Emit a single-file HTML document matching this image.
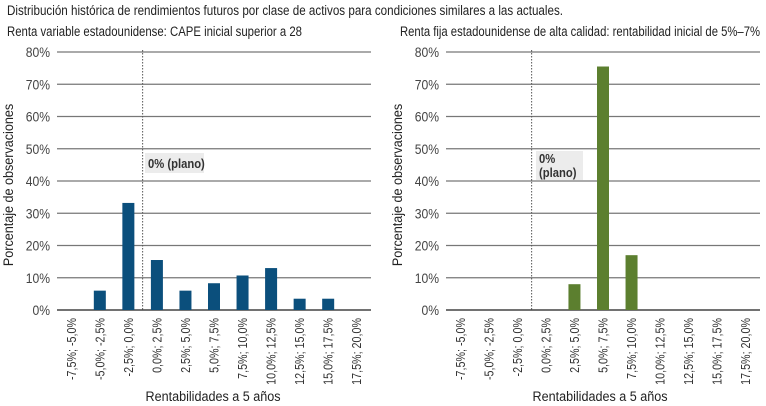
<!DOCTYPE html>
<html><head><meta charset="utf-8"><style>
html,body{margin:0;padding:0;background:#fff;}
svg{display:block;font-family:"Liberation Sans Narrow","Liberation Sans",sans-serif;fill:#222;}
</style></head><body>
<svg width="766" height="406" viewBox="0 0 766 406" xmlns="http://www.w3.org/2000/svg">
<text x="7" y="15" font-size="13.5" textLength="556" lengthAdjust="spacingAndGlyphs">Distribución histórica de rendimientos futuros por clase de activos para condiciones similares a las actuales.</text>
<text x="7" y="36" font-size="13.5" textLength="295" lengthAdjust="spacingAndGlyphs">Renta variable estadounidense: CAPE inicial superior a 28</text>
<text x="400" y="36" font-size="13.5" textLength="360" lengthAdjust="spacingAndGlyphs">Renta fija estadounidense de alta calidad: rentabilidad inicial de 5%–7%</text>
<g id="charts"></g>
</svg>
<script>
(function(){
var ns="http://www.w3.org/2000/svg",g=document.getElementById("charts");
function el(t,a,txt){var e=document.createElementNS(ns,t);for(var k in a)e.setAttribute(k,a[k]);if(txt!=null)e.textContent=txt;g.appendChild(e);return e;}
var cats=["-7,5%; -5,0%","-5,0%; -2,5%","-2,5%; 0,0%","0,0%; 2,5%","2,5%; 5,0%","5,0%; 7,5%","7,5%; 10,0%","10,0%; 12,5%","12,5%; 15,0%","15,0%; 17,5%","17,5%; 20,0%"];
function chart(x0,vals,col,box,axX){
 var w=314,y0=310,s=3.225,cw=w/11;
 for(var i=0;i<=8;i++){var y=y0-i*10*s;
  el("line",{x1:x0,x2:x0+w,y1:y,y2:y,stroke:i==0?"#444":"#777","stroke-width":i==0?1.5:1.2});
  el("text",{transform:"translate("+(x0-7)+","+(y+5)+") scale(0.9,1)","font-size":13.5,"text-anchor":"end",fill:"#444"},(i*10)+"%");}
 var dx=x0+3*cw;
 el("line",{x1:dx,x2:dx,y1:50,y2:y0,stroke:"#555","stroke-width":1,"stroke-dasharray":"1.5,1.5"});
 box();
 for(var i=0;i<11;i++){var cx=x0+cw*(i+0.5);
  if(vals[i]>0)el("rect",{x:cx-6,y:y0-vals[i]*s,width:12,height:vals[i]*s,fill:col});
  el("text",{transform:"translate("+(cx+4.5)+",318) rotate(-90) scale(0.86,1)","font-size":12.5,"text-anchor":"end",fill:"#333"},cats[i]);}
 el("text",{transform:"translate("+(x0-44)+",185) rotate(-90) scale(0.9,1)","font-size":14,"text-anchor":"middle",fill:"#222"},"Porcentaje de observaciones");
 el("text",{transform:"translate("+axX+",401) scale(0.9,1)","font-size":14,"text-anchor":"middle",fill:"#222"},"Rentabilidades a 5 años");
}
chart(57,[0,6,33.2,15.5,6,8.3,10.7,13,3.5,3.5,0],"#0b4f7c",function(){
 el("rect",{x:145,y:153,width:59,height:20,fill:"#ececec"});
 el("text",{transform:"translate(148,168) scale(0.9,1)","font-size":12.5,"font-weight":"bold",fill:"#333"},"0% (plano)");
},213);
chart(446,[0,0,0,0,8,75.5,17,0,0,0,0],"#5c7f2f",function(){
 el("rect",{x:536,y:151,width:47,height:29,fill:"#ececec"});
 el("text",{transform:"translate(539,163) scale(0.9,1)","font-size":12.5,"font-weight":"bold",fill:"#333"},"0%");
 el("text",{transform:"translate(539,177) scale(0.9,1)","font-size":12.5,"font-weight":"bold",fill:"#333"},"(plano)");
},600);
})();
</script>
</body></html>
